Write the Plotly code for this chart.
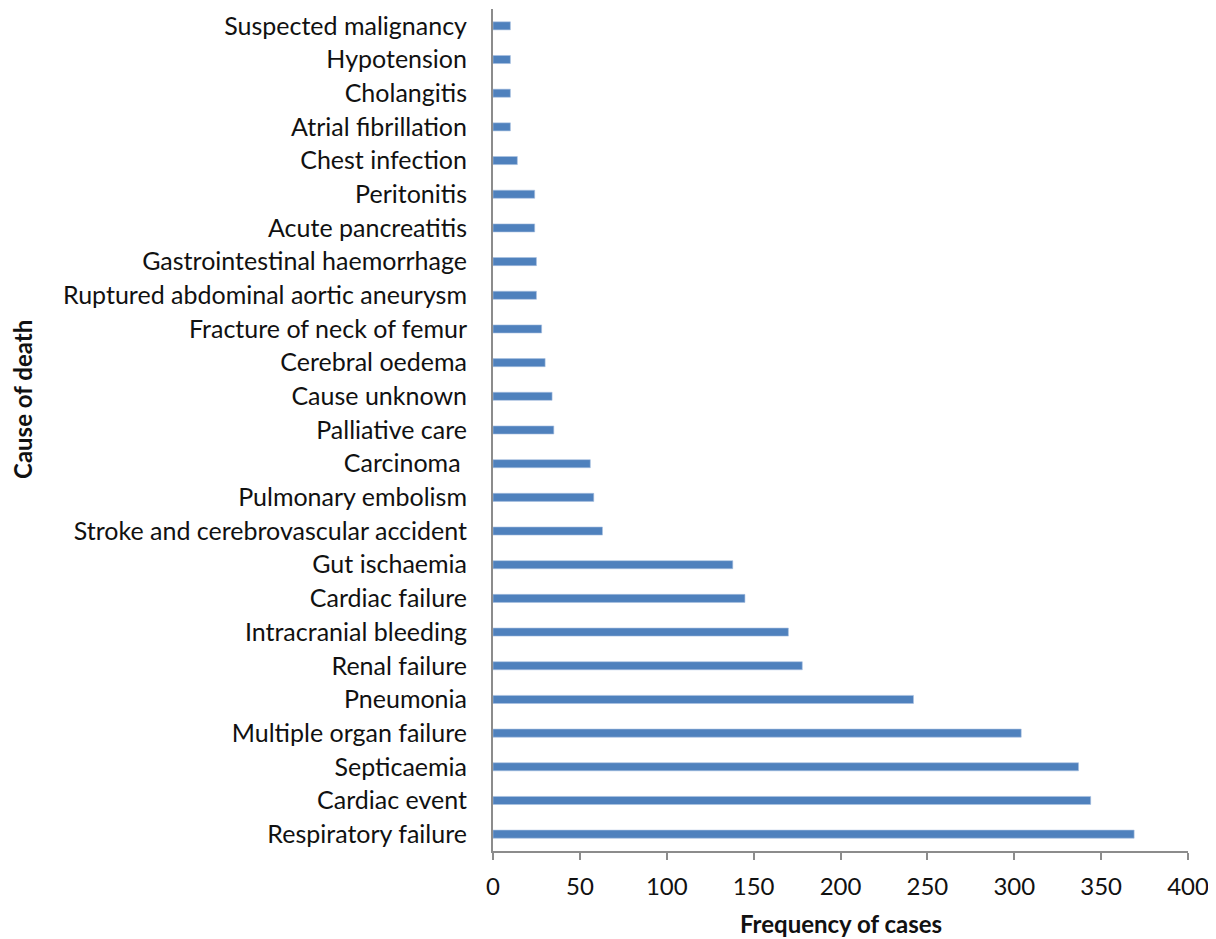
import plotly.graph_objects as go

causes = [
    "Respiratory failure", "Cardiac event", "Septicaemia", "Multiple organ failure",
    "Pneumonia", "Renal failure", "Intracranial bleeding", "Cardiac failure",
    "Gut ischaemia", "Stroke and cerebrovascular accident", "Pulmonary embolism",
    "Carcinoma ", "Palliative care", "Cause unknown", "Cerebral oedema",
    "Fracture of neck of femur", "Ruptured abdominal aortic aneurysm",
    "Gastrointestinal haemorrhage", "Acute pancreatitis", "Peritonitis",
    "Chest infection", "Atrial fibrillation", "Cholangitis", "Hypotension",
    "Suspected malignancy",
]
frequency = [369, 344, 337, 304, 242, 178, 170, 145, 138, 63, 58, 56, 35, 34, 30,
             28, 25, 25, 24, 24, 14, 10, 10, 10, 10]
x_ticks = [0, 50, 100, 150, 200, 250, 300, 350, 400]

fig = go.Figure(go.Bar(
    x=frequency, y=causes, orientation="h",
    marker=dict(color="#4F81BD", line=dict(color="#A9C1E0", width=0.6)),
    width=0.24,
))

font = "Lato, Open Sans, sans-serif"
fig.update_layout(
    width=1208, height=931,
    margin=dict(l=485, r=28, t=1, b=88, autoexpand=False),
    plot_bgcolor="white", paper_bgcolor="white",
    showlegend=False,
    font=dict(family=font, size=24, color="#111111"),
    xaxis=dict(
        range=[0, 400], tickvals=x_ticks, showgrid=False, zeroline=False,
        showline=True, linecolor="#8C8C8C", linewidth=2,
        ticks="outside", ticklen=7, tickcolor="#8C8C8C", tickwidth=2,
        tickfont=dict(size=24), ticklabelstandoff=6,
    ),
    yaxis=dict(
        categoryorder="array", categoryarray=causes,
        range=[-0.5, len(causes) - 0.5],
        showgrid=False, zeroline=False,
        showline=True, linecolor="#8C8C8C", linewidth=2,
        ticks="", ticklabelstandoff=19,
        tickfont=dict(size=25),
    ),
    annotations=[
        dict(text="<b>Frequency of cases</b>", xref="paper", yref="paper",
             x=0.5, y=(851 - 923) / 842, xanchor="center", yanchor="middle",
             showarrow=False, font=dict(size=24)),
        dict(text="<b>Cause of death</b>", xref="paper", yref="paper",
             x=(22 - 493) / 695, y=(851 - 400) / 842, xanchor="center", yanchor="middle",
             textangle=-90, showarrow=False, font=dict(size=24)),
    ],
)
fig.write_html("out.html")
